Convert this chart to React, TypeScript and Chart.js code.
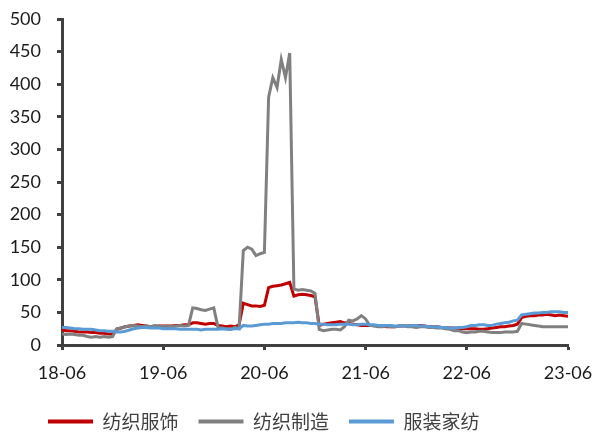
import React, { useEffect, useRef } from "react";
import { Chart, registerables } from "chart.js";

Chart.register(...registerables);

// half-monthly observations, 2018-06 .. 2023-06 (index 0..120)
const tickLabels = ["18-06", "19-06", "20-06", "21-06", "22-06", "23-06"];
const seriesNames = ["纺织服饰", "纺织制造", "服装家纺"];

const textileApparel = [
  23, 22, 22, 21, 20, 20,
  20, 19, 19, 18, 18, 17, 17,
  24, 26, 28, 29, 30, 31,
  30, 29, 28, 28, 29, 29,
  29, 29, 30, 30, 31, 31,
  34, 34, 33, 32, 33, 33,
  30, 29, 28, 29, 28, 31,
  64, 62, 60, 60, 59, 61,
  88, 90, 91, 92, 94, 96,
  75, 77, 78, 77, 76, 74,
  30, 32, 33, 34, 35, 36,
  34, 33, 32, 31, 30, 30,
  30, 30, 29, 29, 28, 28, 28, 29, 29, 29, 30, 30, 30, 29, 28, 28, 28, 27, 27, 26, 26, 25, 25, 25,
  25, 25, 24, 24, 25, 26, 27, 28, 28, 29, 30, 32,
  42, 44, 45, 45, 46, 46, 47, 46, 45, 46, 45, 44,
];

const textileMfg = [
  17, 16, 17, 16, 15, 15,
  13, 12, 13, 12, 13, 12, 13,
  25, 26, 28, 29, 30, 29,
  28, 29, 28, 30, 29, 28,
  29, 28, 29, 30, 29, 30,
  57, 56, 54, 53, 55, 57,
  27, 26, 25, 24, 27, 25,
  145, 150, 147, 137, 140, 142,
  380, 410, 395, 438, 410, 448,
  86, 84, 85, 84, 83, 79,
  24, 22, 23, 24, 24, 23,
  28, 38, 37, 40, 45, 40,
  30, 29, 28, 28, 29, 28, 28, 29, 30, 28, 28, 27, 28, 28, 27, 27, 26, 26, 25, 24, 22, 22, 20, 19,
  20, 20, 21, 21, 20, 19, 19, 19, 20, 20, 20, 21,
  33, 32, 31, 30, 29, 28, 28, 28, 28, 28, 28, 28,
];

const homeTextile = [
  27, 27, 26, 25, 25, 24,
  24, 24, 23, 22, 22, 21, 21,
  20, 20, 21, 23, 25, 26,
  27, 27, 26, 26, 26, 25,
  25, 25, 25, 24, 24, 24,
  24, 24, 23, 24, 24, 24,
  24, 25, 24, 24, 25, 25,
  30, 29, 29, 30, 31, 32,
  32, 33, 33, 33, 34, 34,
  34, 35, 34, 34, 33, 33,
  32, 32, 31, 31, 31, 32,
  32, 32, 31, 31, 32, 32,
  31, 31, 30, 30, 30, 30, 29, 29, 29, 29, 30, 30, 29, 29, 28, 28, 28, 27, 27, 26, 26, 27, 27, 28,
  30, 30, 31, 31, 30, 30, 32, 33, 34, 35, 37, 38,
  46, 47, 48, 49, 49, 50, 50, 51, 51, 51, 50, 50,
];

const toPoints = (arr: number[]) => arr.map((v, i) => ({ x: i, y: v }));

// shift the legend row so it starts where the reference's does
const legendShift = {
  id: "legendShift",
  afterLayout(chart: any) {
    if (chart.legend) chart.legend.left = 28;
  },
};

export default function App() {
  const ref = useRef<HTMLCanvasElement | null>(null);

  useEffect(() => {
    if (!ref.current) return;
    const axisColor = "#404040";
    const chart = new Chart(ref.current, {
      type: "line",
      data: {
        datasets: [
          {
            label: seriesNames[0],
            data: toPoints(textileApparel),
            borderColor: "#C00000",
            backgroundColor: "#C00000",
            borderWidth: 3,
            pointRadius: 0,
            tension: 0,
            order: 3,
          },
          {
            label: seriesNames[1],
            data: toPoints(textileMfg),
            borderColor: "#808080",
            backgroundColor: "#808080",
            borderWidth: 3,
            pointRadius: 0,
            tension: 0,
            order: 2,
          },
          {
            label: seriesNames[2],
            data: toPoints(homeTextile),
            borderColor: "#5B9BD5",
            backgroundColor: "#5B9BD5",
            borderWidth: 3,
            pointRadius: 0,
            tension: 0,
            order: 1,
          },
        ],
      },
      options: {
        animation: false,
        responsive: true,
        maintainAspectRatio: false,
        layout: { padding: { left: 0, right: 29, top: 19, bottom: -5 } },
        scales: {
          x: {
            type: "linear",
            min: 0,
            max: 120,
            afterFit: (s: any) => {
              s.height = 47;
              s.paddingLeft = 0;
              s.paddingRight = 0;
            },
            ticks: {
              stepSize: 24,
              autoSkip: false,
              maxRotation: 0,
              padding: 12,
              color: "#1a1a1a",
              font: { family: "Lato", size: 18 },
              callback: (v: any) => tickLabels[Math.round(Number(v) / 24)] ?? "",
            },
            grid: {
              drawOnChartArea: false,
              drawTicks: true,
              tickLength: 5,
              tickWidth: 3,
              tickColor: axisColor,
            },
            border: { display: true, color: axisColor, width: 3 },
          },
          y: {
            min: 0,
            max: 500,
            afterFit: (s: any) => {
              s.width = 62;
              s.paddingTop = 0;
              s.paddingBottom = 0;
            },
            ticks: {
              stepSize: 50,
              padding: 16,
              color: "#1a1a1a",
              font: { family: "Lato", size: 18 },
            },
            grid: {
              drawOnChartArea: false,
              drawTicks: true,
              tickLength: 5,
              tickWidth: 3,
              tickColor: axisColor,
            },
            border: { display: true, color: axisColor, width: 3 },
          },
        },
        plugins: {
          tooltip: { enabled: false },
          legend: {
            position: "bottom",
            align: "start",
            labels: {
              usePointStyle: true,
              pointStyle: "line",
              pointStyleWidth: 45,
              padding: 20,
              color: "#404040",
              font: { family: "'Noto Sans CJK SC'", size: 19 },
              sort: (a: any, b: any) => a.datasetIndex - b.datasetIndex,
              generateLabels: (c: any) =>
                (Chart.defaults.plugins.legend.labels as any)
                  .generateLabels(c)
                  .map((l: any) => ({ ...l, lineWidth: 4 })),
            },
          },
        },
      },
      plugins: [legendShift],
    });
    return () => chart.destroy();
  }, []);

  return (
    <div style={{ position: "fixed", left: 0, top: 0, width: 597, height: 436 }}>
      <canvas ref={ref} style={{ width: "100%", height: "100%" }} />
    </div>
  );
}
